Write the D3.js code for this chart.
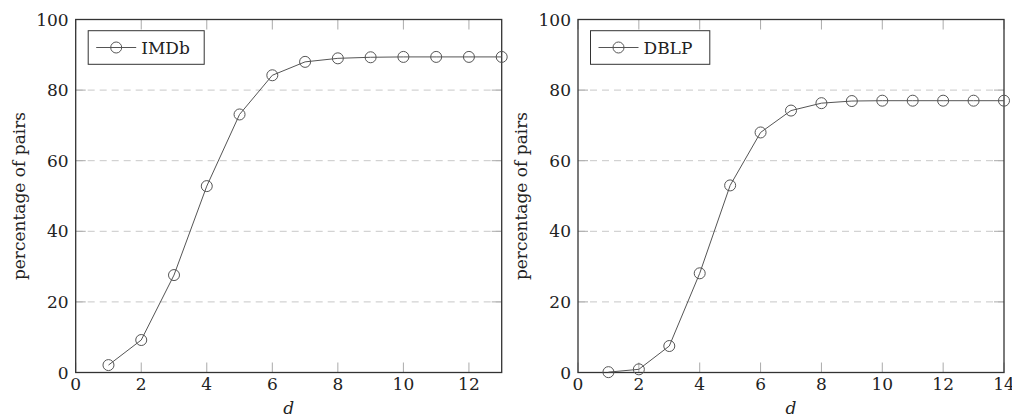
<!DOCTYPE html>
<html><head><meta charset="utf-8">
<script src="https://cdn.jsdelivr.net/npm/d3@7"></script>
<style>
html,body{margin:0;padding:0;background:#fff;}
svg{display:block;}
</style></head>
<body><svg id="c" width="1012" height="418"></svg>
<script>
// Data
const imdbD = [1,2,3,4,5,6,7,8,9,10,11,12,13];
const imdbPct = [2.1,9.2,27.6,52.8,73.1,84.2,88.0,89.0,89.3,89.4,89.4,89.4,89.4];
const dblpD = [1,2,3,4,5,6,7,8,9,10,11,12,13,14];
const dblpPct = [0.1,0.9,7.5,28.1,53.0,68.0,74.2,76.3,76.9,77.0,77.0,77.0,77.0,77.0];
const yTicks = [0,20,40,60,80,100];
const gridTicks = [20,40,60,80];
const imdbXTicks = [0,2,4,6,8,10,12];
const dblpXTicks = [0,2,4,6,8,10,12,14];

const FONT = "DejaVu Serif";
const FS = 17;
const svg = d3.select("#c");

function panel(cfg){
  const g = svg.append("g");
  const x = d3.scaleLinear().domain([0,cfg.xMax]).range([cfg.x0,cfg.x1]);
  const y = d3.scaleLinear().domain([0,100]).range([372.5,19.5]);
  g.selectAll(".grid").data(gridTicks).enter().append("line")
    .attr("x1",cfg.x0).attr("x2",cfg.x1)
    .attr("y1",d=>y(d)).attr("y2",d=>y(d))
    .attr("stroke","#c8c8c8").attr("stroke-width",1).attr("stroke-dasharray","7,5");
  const tl = 10;
  g.selectAll(".tb").data(cfg.xTicks).enter().append("line")
    .attr("x1",d=>x(d)).attr("x2",d=>x(d)).attr("y1",372.5).attr("y2",372.5-tl)
    .attr("stroke","#aaa").attr("stroke-width",1);
  g.selectAll(".tt").data(cfg.xTicks).enter().append("line")
    .attr("x1",d=>x(d)).attr("x2",d=>x(d)).attr("y1",19.5).attr("y2",19.5+tl)
    .attr("stroke","#aaa").attr("stroke-width",1);
  g.selectAll(".tl").data(yTicks).enter().append("line")
    .attr("x1",cfg.x0).attr("x2",cfg.x0+tl).attr("y1",d=>y(d)).attr("y2",d=>y(d))
    .attr("stroke","#aaa").attr("stroke-width",1);
  g.selectAll(".tr").data(yTicks).enter().append("line")
    .attr("x1",cfg.x1).attr("x2",cfg.x1-tl).attr("y1",d=>y(d)).attr("y2",d=>y(d))
    .attr("stroke","#aaa").attr("stroke-width",1);
  g.append("rect").attr("x",cfg.x0).attr("y",19.5).attr("width",cfg.x1-cfg.x0).attr("height",353)
    .attr("fill","none").attr("stroke","#333").attr("stroke-width",1.3);
  g.selectAll(".xl").data(cfg.xTicks).enter().append("text")
    .attr("x",d=>x(d)).attr("y",390).attr("text-anchor","middle")
    .style("font-family",FONT).attr("fill","#222")
    .attr("font-size",FS).text(d=>d);
  g.selectAll(".yl").data(yTicks).enter().append("text")
    .attr("x",cfg.x0-7).attr("y",d=>y(d)+6).attr("text-anchor","end")
    .style("font-family",FONT).attr("fill","#222")
    .attr("font-size",FS).text(d=>d);
  g.append("text").attr("x",(cfg.x0+cfg.x1)/2).attr("y",414).attr("text-anchor","middle")
    .style("font-family",FONT).attr("fill","#222")
    .attr("font-size",FS).attr("font-style","italic").text("d");
  g.append("text").attr("transform",`translate(${cfg.x0-51},196) rotate(-90)`)
    .style("font-family",FONT).attr("fill","#222")
    .attr("text-anchor","middle").attr("font-size",FS).text("percentage of pairs");
  const pts = cfg.xs.map((d,i)=>[d,cfg.ys[i]]);
  g.append("path").datum(pts)
    .attr("d",d3.line().x(d=>x(d[0])).y(d=>y(d[1])))
    .attr("fill","none").attr("stroke","#555").attr("stroke-width",1);
  g.selectAll(".pt").data(pts).enter().append("circle")
    .attr("cx",d=>x(d[0])).attr("cy",d=>y(d[1])).attr("r",5.5)
    .attr("fill","none").attr("stroke","#555").attr("stroke-width",1);
  const lx = cfg.x0+12.5, ly = 30.7, lw = cfg.legendW, lh = 33.6;
  g.append("rect").attr("x",lx).attr("y",ly).attr("width",lw).attr("height",lh)
    .attr("fill","#fff").attr("stroke","#333").attr("stroke-width",1);
  g.append("line").attr("x1",lx+8).attr("x2",lx+48).attr("y1",ly+lh/2).attr("y2",ly+lh/2)
    .attr("stroke","#555").attr("stroke-width",1);
  g.append("circle").attr("cx",lx+28).attr("cy",ly+lh/2).attr("r",5.5)
    .attr("fill","none").attr("stroke","#555").attr("stroke-width",1);
  g.append("text").attr("x",lx+53).attr("y",ly+lh/2+6).attr("font-size",FS)
    .style("font-family",FONT).attr("fill","#222").text(cfg.name);
}

panel({x0:75.7,x1:501.7,xMax:13,xTicks:imdbXTicks,xs:imdbD,ys:imdbPct,name:"IMDb",legendW:116});
panel({x0:578,x1:1004,xMax:14,xTicks:dblpXTicks,xs:dblpD,ys:dblpPct,name:"DBLP",legendW:119.3});
</script></body></html>
